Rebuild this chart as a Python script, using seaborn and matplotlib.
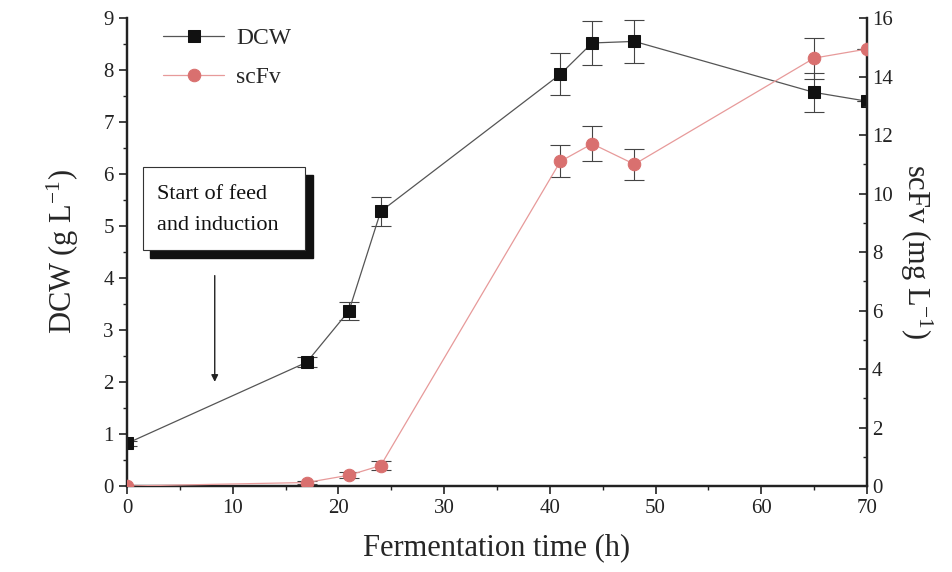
import numpy as np
import pandas as pd
import seaborn as sns
import matplotlib.pyplot as plt
from matplotlib.ticker import MultipleLocator
from matplotlib.patches import Rectangle

# data
time_h = [0, 17, 21, 24, 41, 44, 48, 65, 70]
dcw = [0.82, 2.38, 3.37, 5.28, 7.92, 8.52, 8.55, 7.57, 7.40]
dcw_err = [0.05, 0.10, 0.17, 0.27, 0.40, 0.42, 0.42, 0.38, 0.0]
scfv = [0.0, 0.12, 0.37, 0.70, 11.1, 11.7, 11.0, 14.63, 14.94]
scfv_err = [0.0, 0.05, 0.10, 0.15, 0.55, 0.60, 0.53, 0.70, 0.0]

sns.set_style("white")
plt.rcParams['font.family'] = ['Liberation Serif', 'DejaVu Serif']
plt.rcParams['mathtext.fontset'] = 'stix'

df = pd.DataFrame({'time': time_h, 'DCW': dcw, 'scFv': scfv})

dcw_col = '#111111'
scfv_col = '#d9706f'

fig = plt.figure(figsize=(9.52, 5.72), dpi=100)
ax = fig.add_axes([0.1334, 0.1503, 0.7773, 0.8182])
ax2 = ax.twinx()

# DCW on left axis
ax.errorbar(time_h, dcw, yerr=dcw_err, fmt='none', ecolor='#444444',
            elinewidth=0.8, capsize=7, capthick=0.8, zorder=2)
sns.lineplot(data=df, x='time', y='DCW', ax=ax, color='#555555', lw=0.9,
             marker='s', markersize=9, markerfacecolor=dcw_col,
             markeredgecolor=dcw_col, label='DCW', legend=False, zorder=3)

# scFv on right axis
ax2.errorbar(time_h, scfv, yerr=scfv_err, fmt='none', ecolor='#444444',
             elinewidth=0.8, capsize=7, capthick=0.8, zorder=2)
sns.lineplot(data=df, x='time', y='scFv', ax=ax2, color='#e79a9a', lw=0.9,
             marker='o', markersize=9, markerfacecolor=scfv_col,
             markeredgecolor=scfv_col, label='scFv', legend=False, zorder=3)

ax.set_xlim(0, 70)
ax.set_ylim(0, 9)
ax2.set_ylim(0, 16)
ax.xaxis.set_major_locator(MultipleLocator(10))
ax.xaxis.set_minor_locator(MultipleLocator(5))
ax.yaxis.set_major_locator(MultipleLocator(1))
ax.yaxis.set_minor_locator(MultipleLocator(0.5))
ax2.yaxis.set_major_locator(MultipleLocator(2))
ax2.yaxis.set_minor_locator(MultipleLocator(1))

for a in (ax, ax2):
    a.spines['top'].set_visible(False)
    for s in ('left', 'right', 'bottom'):
        a.spines[s].set_linewidth(1.6)
        a.spines[s].set_color('#222222')
    a.set_facecolor('none')

ax.tick_params(axis='both', which='major', direction='out', length=6, width=1.2,
               labelsize=15, colors='#222222', left=True, bottom=True)
ax.tick_params(axis='both', which='minor', direction='out', length=3, width=1.0,
               left=True, bottom=True, colors='#222222')
ax2.tick_params(axis='y', which='major', direction='in', length=6, width=1.2,
                labelsize=15, colors='#222222', right=True)
ax2.tick_params(axis='y', which='minor', direction='in', length=3, width=1.0,
                right=True, colors='#222222')

ax.set_xlabel('Fermentation time (h)', fontsize=22, labelpad=11)
ax.set_ylabel('DCW (g $\\mathregular{L^{-1}}$)', fontsize=22, labelpad=16)
ax2.set_ylabel('scFv (mg $\\mathregular{L^{-1}}$)', fontsize=22, rotation=270,
               labelpad=30)

# legend combining both axes
h1, l1 = ax.get_legend_handles_labels()
h2, l2 = ax2.get_legend_handles_labels()
ax.legend(h1 + h2, l1 + l2, loc='upper left', bbox_to_anchor=(0.02, 1.025),
          frameon=False, fontsize=17, handlelength=2.6, handletextpad=0.5,
          labelspacing=0.75)

# annotation with shadowed box
ax.add_patch(Rectangle((2.2, 4.38), 15.4, 1.6, fc='#111111', ec='#111111',
                       zorder=4, clip_on=False))
ax.add_patch(Rectangle((1.5, 4.54), 15.3, 1.6, fc='white', ec='#333333',
                       lw=0.8, zorder=5, clip_on=False))
ax.text(2.85, 5.3, 'Start of feed\nand induction', fontsize=16,
        color='#111111', va='center', ha='left', linespacing=1.85, zorder=6)
ax.annotate('', xy=(8.3, 1.95), xytext=(8.3, 4.1),
            arrowprops=dict(arrowstyle='-|>', color='#222222', lw=1.0,
                            mutation_scale=10))

fig.savefig('out.png', dpi=100)
